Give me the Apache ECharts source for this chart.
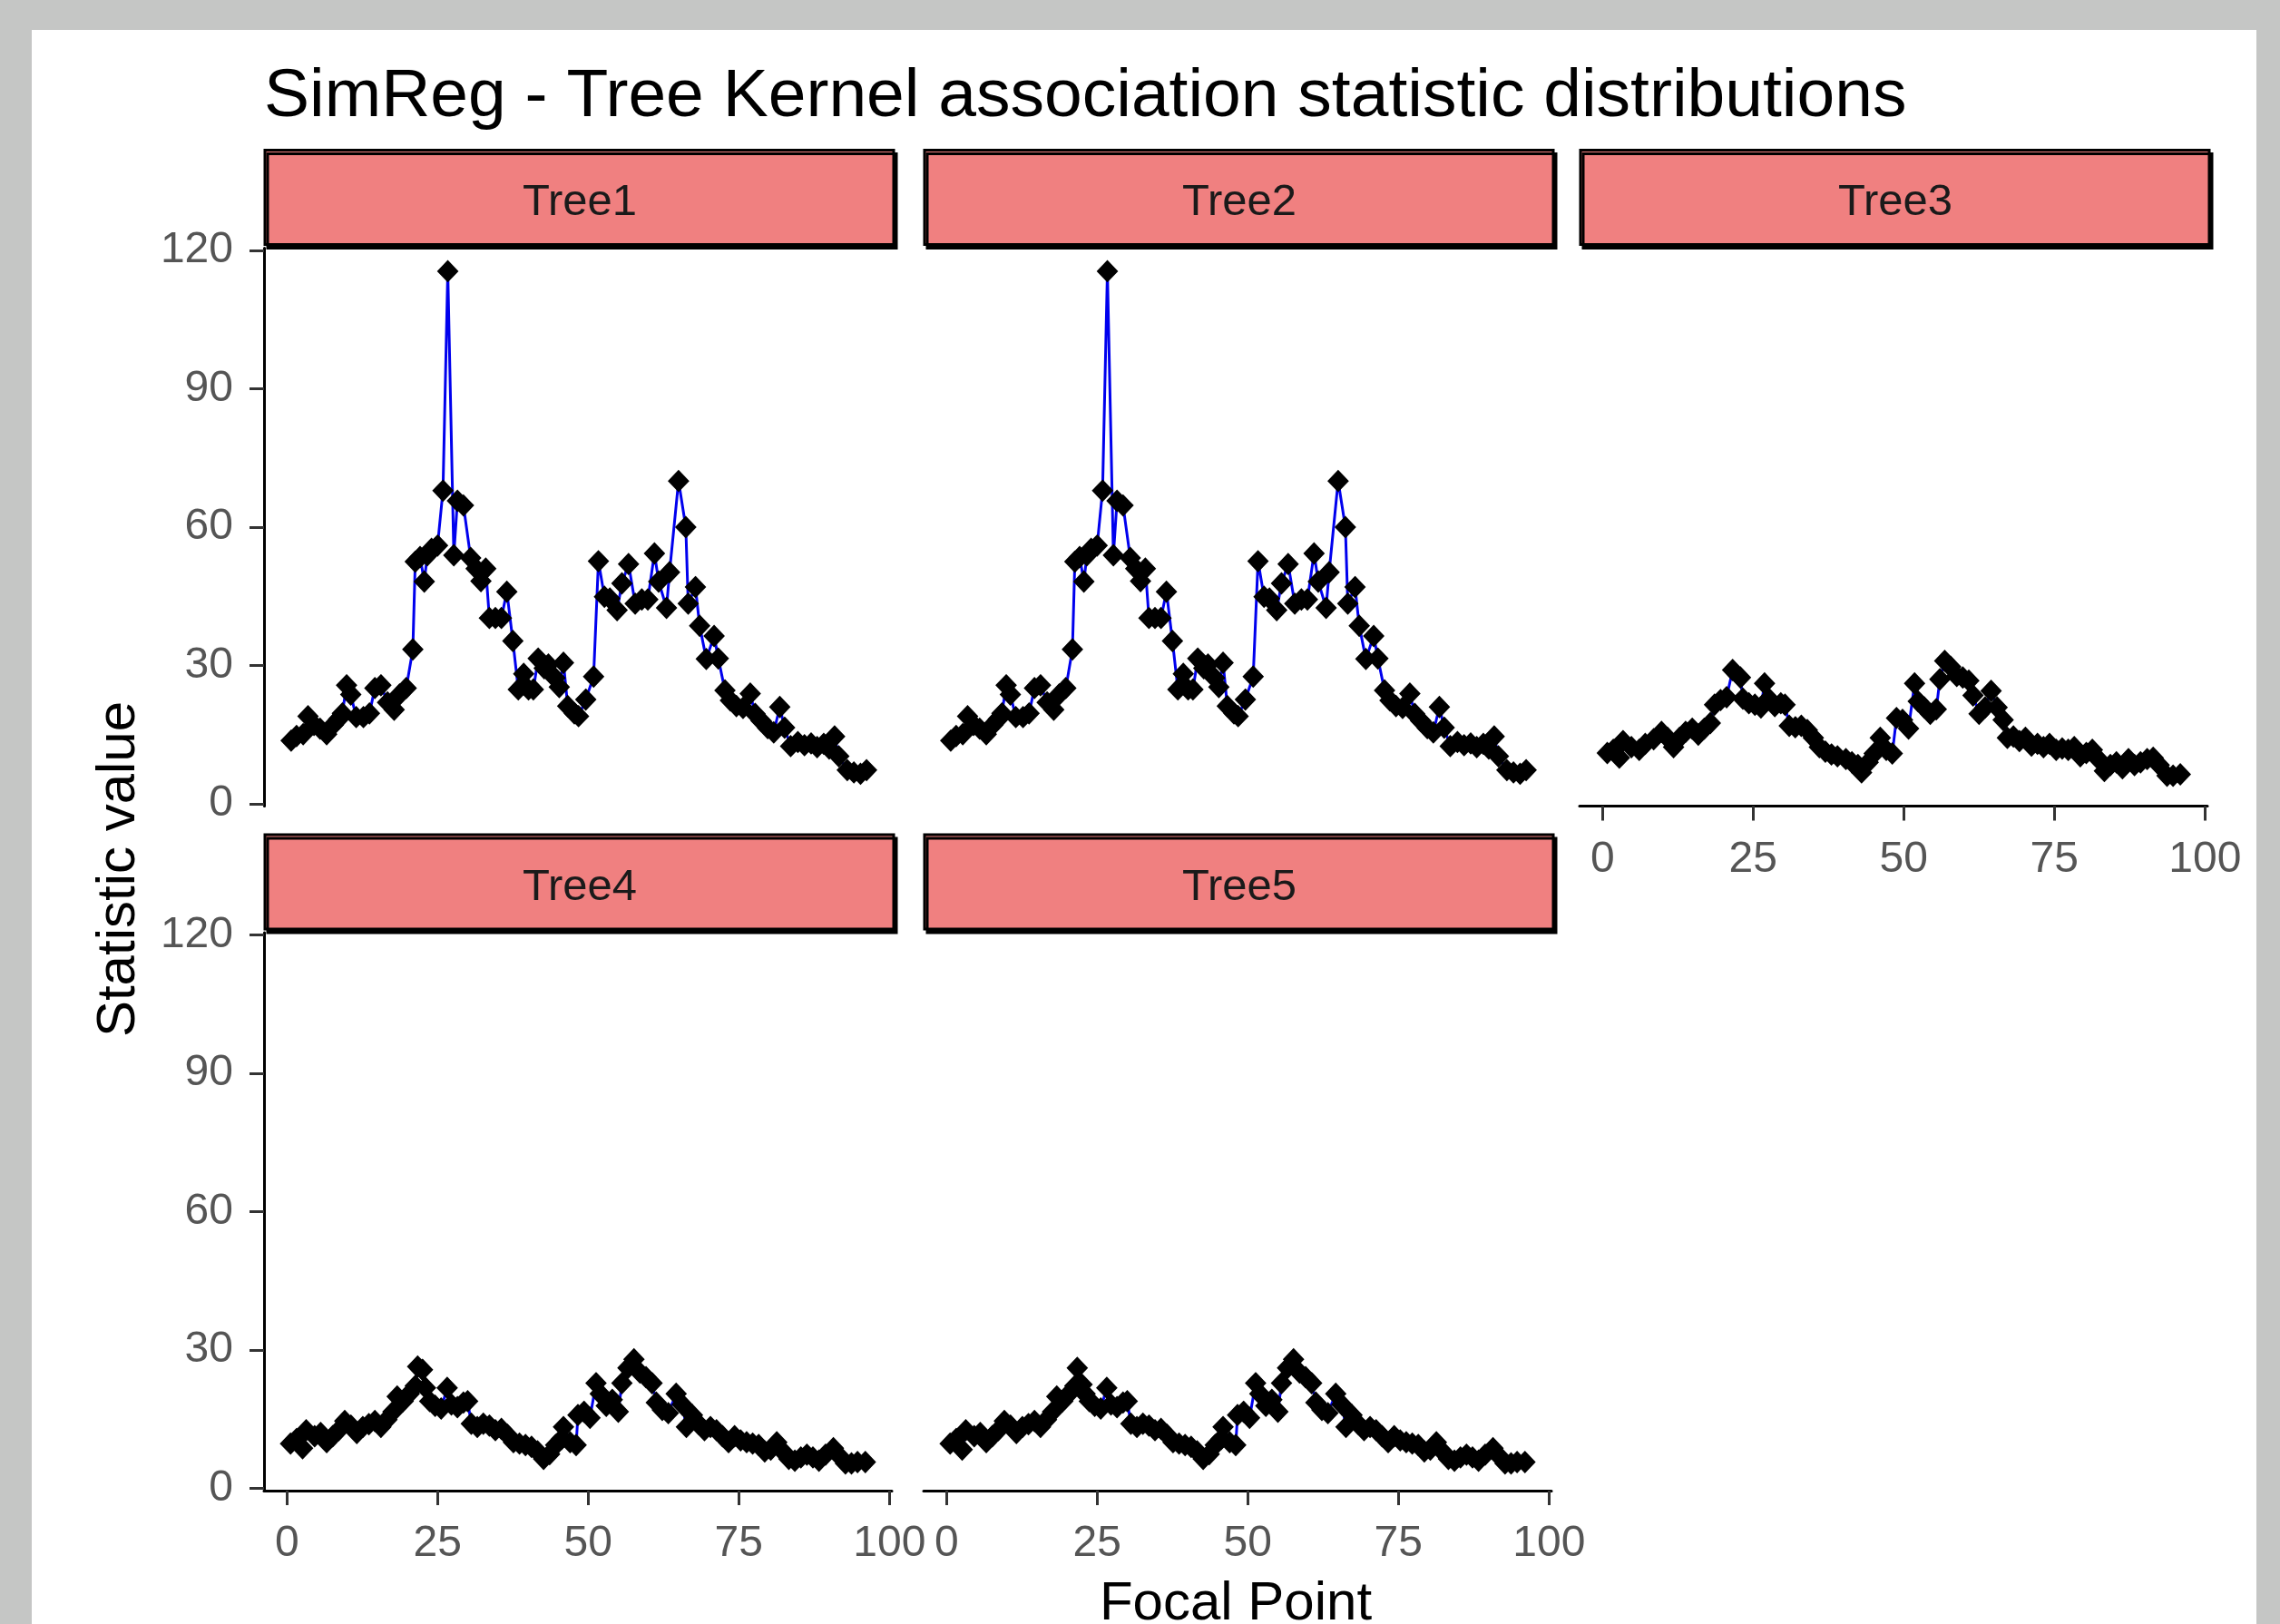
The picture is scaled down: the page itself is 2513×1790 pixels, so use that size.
<!DOCTYPE html>
<html>
<head>
<meta charset="utf-8">
<script src="https://cdn.jsdelivr.net/npm/echarts@6/dist/echarts.min.js"></script>
<style>
html,body{margin:0;padding:0;background:#c5c6c5;}
#chart{width:2513px;height:1790px;}
</style>
</head>
<body>
<div id="chart"></div>
<script>
// ---------------- data ----------------
const chartTitle = 'SimReg - Tree Kernel association statistic distributions';
const xAxisTitle = 'Focal Point';
const yAxisTitle = 'Statistic value';
const panelNames = ['Tree1', 'Tree2', 'Tree3', 'Tree4', 'Tree5'];
const xTicks = [0, 25, 50, 75, 100];
const yTicks = [0, 30, 60, 90, 120];

const tree1X = [0.7,1.6,2.7,3.5,4.5,5.5,6.6,7.7,8.6,9.2,9.9,10.6,11.5,12.7,13.7,14.6,15.6,16.7,17.8,18.7,19.8,20.9,21.3,22.1,22.8,23.3,24.0,25.0,25.9,26.7,27.7,28.3,29.3,30.5,31.4,32.2,33.0,33.6,34.6,35.6,36.5,37.5,38.4,39.3,40.1,40.9,41.7,42.7,43.4,44.5,45.2,45.9,46.6,47.7,48.4,49.6,50.9,51.7,52.7,53.6,54.8,55.6,56.7,57.8,58.9,59.9,61.0,61.7,63.0,63.5,65.0,66.2,66.6,67.8,68.5,69.6,70.9,71.6,72.7,73.6,74.6,75.7,76.9,77.7,78.7,79.8,80.8,81.8,82.6,83.6,84.8,85.9,87.0,88.0,89.1,90.0,90.9,91.6,93.0,94.1,95.2,96.2];
const tree1Y = [13.7,14.7,15.1,19.0,17.1,16.3,15.1,17.1,18.4,19.6,25.7,23.7,18.8,18.8,19.6,25.1,25.7,22.0,20.4,23.7,25.1,33.5,52.5,53.5,48.2,53.9,55.3,56.0,67.9,115.5,53.9,65.7,64.7,53.3,51.0,48.3,51.0,40.3,40.3,40.3,46.0,35.3,24.8,28.2,24.8,24.8,31.5,29.4,30.2,27.3,25.3,30.6,21.2,19.6,19.0,22.6,27.6,52.6,44.9,44.5,42.0,47.8,52.0,43.4,44.3,44.3,54.3,48.2,42.5,50.2,70.0,60.0,43.4,47.0,38.6,31.4,36.4,31.5,24.6,22.4,21.2,20.8,23.9,19.5,18.0,16.4,15.5,21.0,16.5,12.5,13.4,12.7,13.1,12.3,13.0,12.0,14.6,10.3,7.3,6.8,6.5,7.3];

const tree2X = [0.7,1.6,2.7,3.5,4.5,5.5,6.6,7.7,8.6,9.2,9.9,10.6,11.5,12.7,13.7,14.6,15.6,16.7,17.8,18.7,19.8,20.9,21.3,22.1,22.8,23.3,24.0,25.0,25.9,26.7,27.7,28.3,29.3,30.5,31.4,32.2,33.0,33.6,34.6,35.6,36.5,37.5,38.4,39.3,40.1,40.9,41.7,42.7,43.4,44.5,45.2,45.9,46.6,47.7,48.4,49.6,50.9,51.7,52.7,53.6,54.8,55.6,56.7,57.8,58.9,59.9,61.0,61.7,63.0,63.5,65.0,66.2,66.6,67.8,68.5,69.6,70.9,71.6,72.7,73.6,74.6,75.7,76.9,77.7,78.7,79.8,80.8,81.8,82.6,83.6,84.8,85.9,87.0,88.0,89.1,90.0,90.9,91.6,93.0,94.1,95.2,96.2];
const tree2Y = [13.7,14.7,15.1,19.0,17.1,16.3,15.1,17.1,18.4,19.6,25.7,23.7,18.8,18.8,19.6,25.1,25.7,22.0,20.4,23.7,25.1,33.5,52.5,53.5,48.2,53.9,55.3,56.0,67.9,115.5,53.9,65.7,64.7,53.3,51.0,48.3,51.0,40.3,40.3,40.3,46.0,35.3,24.8,28.2,24.8,24.8,31.5,29.4,30.2,27.3,25.3,30.6,21.2,19.6,19.0,22.6,27.6,52.6,44.9,44.5,42.0,47.8,52.0,43.4,44.3,44.3,54.3,48.2,42.5,50.2,70.0,60.0,43.4,47.0,38.6,31.4,36.4,31.5,24.6,22.4,21.2,20.8,23.9,19.5,18.0,16.4,15.5,21.0,16.5,12.5,13.4,12.7,13.1,12.3,13.0,12.0,14.6,10.3,7.3,6.8,6.5,7.3];

const tree3X = [0.8,1.8,2.8,3.4,4.8,6.1,7.1,8.5,9.8,10.8,11.8,12.8,13.8,14.9,15.9,16.9,17.9,18.6,19.6,20.6,21.6,22.9,23.3,24.3,25.3,26.3,26.9,27.6,28.6,29.6,30.3,31.0,32.0,33.0,34.0,35.0,36.0,37.0,38.0,39.0,40.4,41.4,42.4,43.0,44.1,45.1,46.1,47.1,48.1,48.8,49.8,50.8,51.8,52.4,53.4,54.4,55.4,56.0,56.8,57.8,58.8,59.8,60.8,61.5,62.5,63.5,64.5,65.5,66.5,67.2,68.2,69.2,70.2,71.2,72.2,73.2,74.2,75.3,76.3,77.3,78.3,79.3,80.3,81.3,82.3,83.3,84.3,85.3,86.3,87.3,88.3,89.3,90.4,91.4,92.4,93.7,94.7,95.9];
const tree3Y = [11.0,11.7,10.0,13.6,12.3,11.7,13.0,14.0,15.6,14.3,12.3,14.3,15.6,16.3,15.0,16.3,17.5,21.5,22.5,23.1,29.0,27.4,22.8,21.8,21.5,20.9,26.1,22.8,21.2,21.8,21.5,16.9,16.6,16.9,16.0,14.3,12.3,11.3,10.7,10.3,9.7,9.0,8.4,6.8,9.0,10.9,14.3,11.7,10.9,18.6,18.2,16.3,26.1,22.2,20.9,19.5,20.5,27.0,31.0,29.7,27.7,27.4,26.7,23.5,19.5,20.9,24.5,20.9,18.2,14.3,14.6,13.6,14.3,12.6,13.0,12.3,13.0,11.7,12.0,11.7,12.3,10.3,11.0,11.7,9.7,7.1,8.4,9.0,7.7,9.7,8.4,9.0,9.7,10.0,8.4,6.1,6.1,6.4];

const tree4X = [0.6,1.6,2.6,3.2,4.6,5.6,6.6,7.6,8.6,9.6,10.6,11.6,12.6,13.6,14.6,15.6,16.6,17.6,18.3,19.3,20.3,21.3,21.7,22.5,23.0,23.7,24.6,25.6,26.6,27.3,28.3,29.3,30.0,30.6,31.6,32.6,33.6,34.6,35.6,36.6,37.6,38.6,39.6,40.6,41.6,42.6,43.6,44.6,45.6,45.9,47.0,48.0,48.3,49.3,50.3,51.3,52.0,53.0,54.0,55.0,55.6,56.6,57.6,58.6,59.6,60.6,61.3,62.3,63.3,64.6,65.6,66.3,67.3,68.3,69.3,70.3,71.3,72.3,73.3,74.3,75.3,76.3,77.3,78.3,79.3,80.3,81.3,82.3,83.3,84.3,85.3,86.3,87.3,88.3,89.4,90.7,91.7,92.7,93.7,94.7,96.0];
const tree4Y = [9.7,10.7,8.7,12.6,11.3,12.0,10.0,11.3,12.6,14.6,13.6,12.0,13.3,13.9,14.6,13.3,14.9,16.6,19.9,18.9,20.5,22.2,26.4,25.7,21.8,18.9,17.9,17.3,21.8,18.2,17.6,18.6,18.9,14.0,13.3,14.0,13.6,12.6,12.9,11.6,10.0,9.7,9.4,9.0,8.0,6.4,7.4,9.4,10.7,13.3,10.0,9.4,15.9,16.6,15.3,22.8,20.5,17.9,19.2,16.6,22.8,26.1,28.0,25.1,24.1,22.8,18.6,17.0,16.3,20.5,18.2,13.3,15.9,14.0,12.6,13.3,12.6,11.3,10.0,11.3,10.4,10.0,9.7,9.4,8.0,8.4,10.0,8.0,6.4,6.0,6.7,7.3,6.7,6.0,7.3,8.7,7.0,5.4,5.4,5.7,5.7];

const tree5X = [0.6,1.6,2.6,3.2,4.6,5.6,6.6,7.6,8.6,9.6,10.6,11.6,12.6,13.6,14.6,15.6,16.6,17.6,18.3,19.3,20.3,21.3,21.7,22.5,23.0,23.7,24.6,25.6,26.6,27.3,28.3,29.3,30.0,30.6,31.6,32.6,33.6,34.6,35.6,36.6,37.6,38.6,39.6,40.6,41.6,42.6,43.6,44.6,45.6,45.9,47.0,48.0,48.3,49.3,50.3,51.3,52.0,53.0,54.0,55.0,55.6,56.6,57.6,58.6,59.6,60.6,61.3,62.3,63.3,64.6,65.6,66.3,67.3,68.3,69.3,70.3,71.3,72.3,73.3,74.3,75.3,76.3,77.3,78.3,79.3,80.3,81.3,82.3,83.3,84.3,85.3,86.3,87.3,88.3,89.4,90.7,91.7,92.7,93.7,94.7,96.0];
const tree5Y = [9.7,10.7,8.4,12.6,11.3,12.0,10.0,11.3,12.6,14.6,13.6,12.0,13.3,13.9,14.6,13.3,14.9,16.6,19.9,18.9,20.5,22.2,26.1,22.5,20.5,18.9,17.9,17.3,21.8,18.2,17.6,18.6,18.9,14.0,13.3,14.0,13.6,12.6,12.9,11.6,10.0,9.7,9.4,9.0,8.0,6.4,7.4,9.4,10.7,13.3,10.0,9.4,15.9,16.6,15.3,22.8,20.5,17.9,19.2,16.6,22.8,26.1,28.0,25.1,24.1,22.8,18.6,17.0,16.3,20.5,18.2,13.3,15.9,14.0,12.6,13.3,12.6,11.3,10.0,11.3,10.4,10.0,9.7,9.4,8.0,8.4,10.0,8.0,6.4,6.0,6.7,7.3,6.7,6.0,7.3,8.7,7.0,5.4,5.4,5.7,5.7];

// ---------------- layout ----------------
const FONT = "'Liberation Sans', Arial, Helvetica, sans-serif";
const PANEL_W = 692, PANEL_H = 615, STRIP_H = 106;
const X_MIN = -3.8, X_MAX = 100.4, Y_MIN = -0.5, Y_MAX = 120.5;
const colLeft = [291, 1018, 1741];
const rowTop = [273.5, 1028];

const panels = [
  {name: panelNames[0], xs: tree1X, ys: tree1Y, col: 0, row: 0, showX: false, showY: true},
  {name: panelNames[1], xs: tree2X, ys: tree2Y, col: 1, row: 0, showX: false, showY: false},
  {name: panelNames[2], xs: tree3X, ys: tree3Y, col: 2, row: 0, showX: true,  showY: false},
  {name: panelNames[3], xs: tree4X, ys: tree4Y, col: 0, row: 1, showX: true,  showY: true},
  {name: panelNames[4], xs: tree5X, ys: tree5Y, col: 1, row: 1, showX: true,  showY: false}
];

const grids = [], xAxes = [], yAxes = [], series = [], graphics = [];

graphics.push({
  type: 'rect', z: -10, silent: true,
  shape: {x: 35, y: 33, width: 2452, height: 1800},
  style: {fill: '#ffffff'}
});

const axisLineStyle = {color: '#000', width: 3};
const tickStyle = {color: '#333', width: 3};
const labelStyle = {fontSize: 48, color: '#555555', fontFamily: FONT};

panels.forEach((p, i) => {
  const left = colLeft[p.col], top = rowTop[p.row];
  grids.push({left: left, top: top, width: PANEL_W, height: PANEL_H, containLabel: false});
  xAxes.push({
    gridIndex: i, type: 'value', min: X_MIN, max: X_MAX, show: p.showX,
    axisLine: {show: true, onZero: false, lineStyle: axisLineStyle},
    axisTick: {show: true, customValues: xTicks, length: 16, lineStyle: tickStyle},
    axisLabel: Object.assign({show: true, customValues: xTicks, margin: 35}, labelStyle),
    splitLine: {show: false}
  });
  yAxes.push({
    gridIndex: i, type: 'value', min: Y_MIN, max: Y_MAX, show: p.showY,
    axisLine: {show: true, onZero: false, lineStyle: axisLineStyle},
    axisTick: {show: true, customValues: yTicks, length: 16, lineStyle: tickStyle},
    axisLabel: Object.assign({show: true, customValues: yTicks, margin: 34}, labelStyle),
    splitLine: {show: false}
  });
  series.push({
    type: 'line', name: p.name, xAxisIndex: i, yAxisIndex: i,
    data: p.xs.map((v, k) => [v, p.ys[k]]),
    symbol: 'diamond', symbolSize: [21, 22], showAllSymbol: true,
    itemStyle: {color: '#000', borderColor: '#000', borderWidth: 2},
    lineStyle: {color: '#0000ee', width: 3},
    silent: true, animation: false, clip: false
  });
  // facet strip
  graphics.push({
    type: 'rect', z: 5, silent: true,
    shape: {x: left + 1, y: top - STRIP_H - 2, width: PANEL_W + 1, height: STRIP_H - 2},
    style: {fill: '#f08080', stroke: '#000', lineWidth: 3,
            shadowColor: '#000', shadowOffsetX: 3, shadowOffsetY: 4, shadowBlur: 0}
  });
  graphics.push({
    type: 'text', z: 6, silent: true,
    x: left + PANEL_W / 2 + 2, y: top - STRIP_H / 2 + 3,
    style: {text: p.name, fontSize: 49, fontFamily: FONT, fill: '#1a1a1a',
            align: 'center', verticalAlign: 'middle'}
  });
});

graphics.push({
  type: 'text', silent: true, x: 131, y: 958, rotation: Math.PI / 2,
  style: {text: yAxisTitle, fontSize: 60, fontFamily: FONT, fill: '#000',
          align: 'center', verticalAlign: 'middle'}
});
graphics.push({
  type: 'text', silent: true, x: 1362, y: 1738,
  style: {text: xAxisTitle, fontSize: 60, fontFamily: FONT, fill: '#000',
          align: 'center', verticalAlign: 'top'}
});

const chart = echarts.init(document.getElementById('chart'), null, {renderer: 'canvas'});
chart.setOption({
  backgroundColor: '#c5c6c5',
  animation: false,
  title: {
    text: chartTitle, left: 291, top: 70, padding: 0,
    textStyle: {fontSize: 75, fontWeight: 'normal', color: '#000', fontFamily: FONT}
  },
  grid: grids,
  xAxis: xAxes,
  yAxis: yAxes,
  series: series,
  graphic: graphics
});
</script>
</body>
</html>
